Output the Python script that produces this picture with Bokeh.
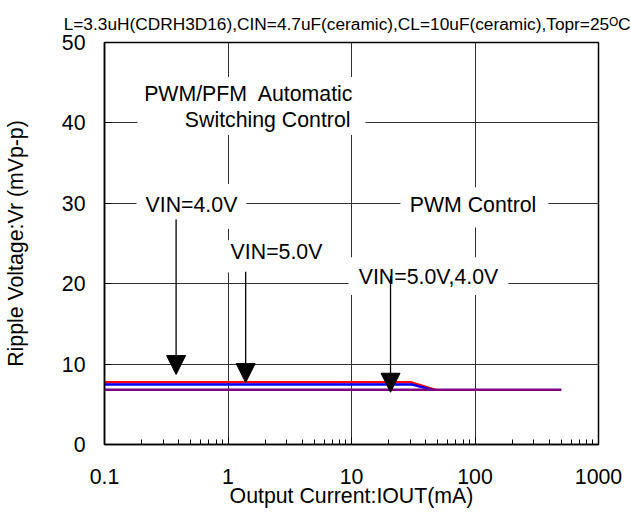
from bokeh.plotting import figure
from bokeh.models import (Range1d, Label, Arrow, NormalHead, BoxAnnotation,
                          FixedTicker, PrintfTickFormatter, ColumnDataSource)
from bokeh.embed import file_html
from bokeh.resources import INLINE

# ---- data ----
red_x = [0.1, 30, 48]
red_y = [7.75, 7.75, 6.8]
blue_x = [0.1, 31, 45]
blue_y = [7.45, 7.45, 6.8]
purple_x = [0.1, 500]
purple_y = [6.8, 6.8]

arrow_x = [0.38, 1.39, 20.7]
arrow_top_y = [28.0, 21.5, 21.0]
arrow_tip_y = [8.7, 7.7, 6.5]

x_ticks = [0.1, 1, 10, 100, 1000]
x_minor = [m * 10.0 ** e for e in range(-1, 3) for m in range(2, 10)]
y_ticks = [0, 10, 20, 30, 40, 50]

FONT = "Liberation Sans"
FS = "21.3px"

p = figure(width=631, height=513, x_axis_type="log",
           x_range=Range1d(0.1, 1000), y_range=Range1d(0, 50),
           output_backend="svg", toolbar_location=None,
           min_border_left=104, min_border_right=33,
           min_border_top=42, min_border_bottom=69)

p.outline_line_color = "black"
p.outline_line_width = 1.5
p.background_fill_color = "white"
p.border_fill_color = "white"

# title
p.title.text = "L=3.3uH(CDRH3D16),CIN=4.7uF(ceramic),CL=10uF(ceramic),Topr=25\u1D3CC"
p.title.align = "right"
p.title.offset = -32
p.title.standoff = 18
p.title.text_font = FONT
p.title.text_font_size = "17.3px"
p.title.text_font_style = "normal"
p.title.text_color = "black"

# axes
p.xaxis.ticker = FixedTicker(ticks=x_ticks, minor_ticks=x_minor)
p.xaxis.formatter = PrintfTickFormatter(format="%g")
p.yaxis.ticker = FixedTicker(ticks=y_ticks, minor_ticks=[])
for ax in (p.xaxis, p.yaxis):
    ax.axis_line_color = "black"
    ax.axis_line_width = 1.5
    ax.major_tick_line_color = "black"
    ax.minor_tick_line_color = "black"
    ax.major_tick_out = 0
    ax.major_tick_in = 7
    ax.minor_tick_out = 0
    ax.minor_tick_in = 5
    ax.major_label_text_font = FONT
    ax.major_label_text_font_size = FS
    ax.major_label_text_color = "black"
    ax.axis_label_text_font = FONT
    ax.axis_label_text_font_size = FS
    ax.axis_label_text_font_style = "normal"
    ax.axis_label_text_color = "black"

p.xaxis.axis_label = "Output Current:IOUT(mA)"
p.yaxis.axis_label = "Ripple Voltage:Vr (mVp-p)"
p.xaxis.major_label_standoff = 24
p.xaxis.axis_label_standoff = -3
p.yaxis.major_label_standoff = 19
p.yaxis.axis_label_standoff = 31

# grid
p.xgrid.grid_line_color = "#303030"
p.ygrid.grid_line_color = "#303030"
p.xgrid.grid_line_width = 1
p.ygrid.grid_line_width = 1
p.xgrid.minor_grid_line_color = None

# white boxes behind the annotation texts (hide the grid)
boxes = [
    (0.185, 12.98, 38.5, 45.7),
    (0.1815, 1.41, 26.8, 32.4),
    (24.9, 393.6, 27.0, 32.0),
    (0.869, 6.76, 21.4, 25.4),
    (9.46, 186.7, 18.6, 23.3),
]
for l, r, b, t in boxes:
    p.add_layout(BoxAnnotation(left=l, right=r, bottom=b, top=t,
                               fill_color="white", fill_alpha=1.0,
                               line_color=None))

# series
p.line(red_x, red_y, line_color="#ff0000", line_width=2.5)
p.line(blue_x, blue_y, line_color="#0000ff", line_width=2.5)
p.line(purple_x, purple_y, line_color="#800080", line_width=2.5)

# arrows
src = ColumnDataSource(dict(x=arrow_x, y0=arrow_top_y, y1=arrow_tip_y))
arr = Arrow(x_start="x", y_start="y0", x_end="x", y_end="y1", source=src,
            line_color="black", line_width=1.3,
            end=NormalHead(size=19, fill_color="black", line_color="black",
                           line_width=1),
            level="overlay")
p.add_layout(arr)

# texts
def lab(x, y, text, align="center"):
    p.add_layout(Label(x=x, y=y, text=text, text_align=align,
                       text_baseline="middle", text_font=FONT,
                       text_font_size=FS, text_color="black"))

lab(10.4, 43.6, "PWM/PFM\u00a0 Automatic", align="right")
lab(9.82, 40.3, "Switching Control", align="right")
lab(0.506, 29.8, "VIN=4.0V")
lab(96.4, 29.8, "PWM Control")
lab(2.47, 24.0, "VIN=5.0V")
lab(42.0, 20.8, "VIN=5.0V,4.0V")

open("out.html", "w").write(file_html(p, INLINE))
